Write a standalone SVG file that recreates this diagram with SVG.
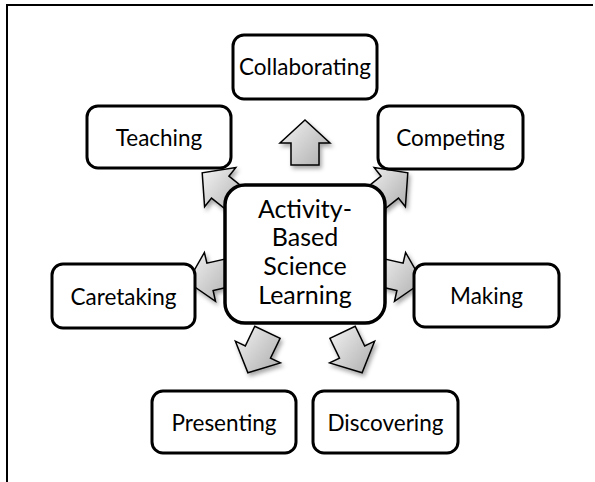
<svg xmlns="http://www.w3.org/2000/svg" width="595" height="482" viewBox="0 0 595 482">
  <defs>
    <linearGradient id="arrowFill" x1="0" y1="0" x2="1" y2="0.8">
      <stop offset="0" stop-color="#f4f4f4"/>
      <stop offset="1" stop-color="#b2b2b2"/>
    </linearGradient>
    <filter id="shadow" x="-30%" y="-30%" width="170%" height="170%">
      <feDropShadow dx="2" dy="3" stdDeviation="2" flood-color="#000" flood-opacity="0.35"/>
    </filter>
    <style>
      .frame { fill: none; stroke: #000; stroke-width: 2; }
      .arrow { fill: url(#arrowFill); stroke: #000; stroke-width: 1.5; stroke-linejoin: miter; filter: url(#shadow); }
      .box { fill: #fff; stroke: #000; stroke-width: 3; }
      .hub { fill: #fff; stroke: #000; stroke-width: 3.5; }
      .label { font-family: Lato, "Liberation Sans", sans-serif; font-size: 22.5px; fill: #000; text-anchor: middle; }
      .hub-label { font-family: Lato, "Liberation Sans", sans-serif; font-size: 25px; fill: #000; text-anchor: middle; }
    </style>
  </defs>

  <!-- page frame (left and top edges) -->
  <path class="frame" d="M7,482 V5 H593"/>

  <!-- block arrows radiating from the hub -->
  <g id="connectors">
    <polygon class="arrow" points="305,120 330,143 319,143 319,165 291,165 291,143 280,143"/>
    <polygon class="arrow" points="407.8,172.8 405.4,206.7 398.5,198.1 381.3,211.8 363.9,189.9 381.1,176.2 374.2,167.6"/>
    <polygon class="arrow" points="422.4,282 394.5,301.3 396.9,290.5 375.4,285.6 381.7,258.3 403.1,263.2 405.6,252.5"/>
    <polygon class="arrow" points="362.1,372.8 329.6,362.9 339.5,358.1 329.9,338.3 355.2,326.2 364.7,346 374.6,341.2"/>
    <polygon class="arrow" points="247.9,372.8 280.4,362.9 270.5,358.1 280.1,338.3 254.8,326.2 245.3,346 235.4,341.2"/>
    <polygon class="arrow" points="187.6,282 215.5,301.3 213.1,290.5 234.6,285.6 228.3,258.3 206.9,263.2 204.4,252.5"/>
    <polygon class="arrow" points="202.2,172.8 204.6,206.7 211.5,198.1 228.7,211.8 246.1,189.9 228.9,176.2 235.8,167.6"/>
  </g>

  <g id="collaborating">
    <rect class="box" x="233" y="35" width="144" height="64" rx="11"/>
    <text class="label" x="305" y="75">Collaborating</text>
  </g>
  <g id="competing">
    <rect class="box" x="378" y="106" width="145" height="63" rx="11"/>
    <text class="label" x="450.5" y="146">Competing</text>
  </g>
  <g id="making">
    <rect class="box" x="414" y="264" width="145" height="63" rx="11"/>
    <text class="label" x="486.5" y="304">Making</text>
  </g>
  <g id="discovering">
    <rect class="box" x="313" y="391" width="145" height="62" rx="11"/>
    <text class="label" x="385.5" y="431">Discovering</text>
  </g>
  <g id="presenting">
    <rect class="box" x="152" y="391" width="144" height="62" rx="11"/>
    <text class="label" x="224" y="431">Presenting</text>
  </g>
  <g id="caretaking">
    <rect class="box" x="52" y="264" width="143" height="64" rx="11"/>
    <text class="label" x="123.5" y="304.5">Caretaking</text>
  </g>
  <g id="teaching">
    <rect class="box" x="87" y="106" width="144" height="62" rx="11"/>
    <text class="label" x="159" y="146">Teaching</text>
  </g>

  <g id="hub">
    <rect class="hub" x="225" y="185" width="160" height="138" rx="20"/>
    <text class="hub-label" x="305" y="217.5">Activity-</text>
    <text class="hub-label" x="305" y="246">Based</text>
    <text class="hub-label" x="305" y="275">Science</text>
    <text class="hub-label" x="305" y="303.5">Learning</text>
  </g>
</svg>
